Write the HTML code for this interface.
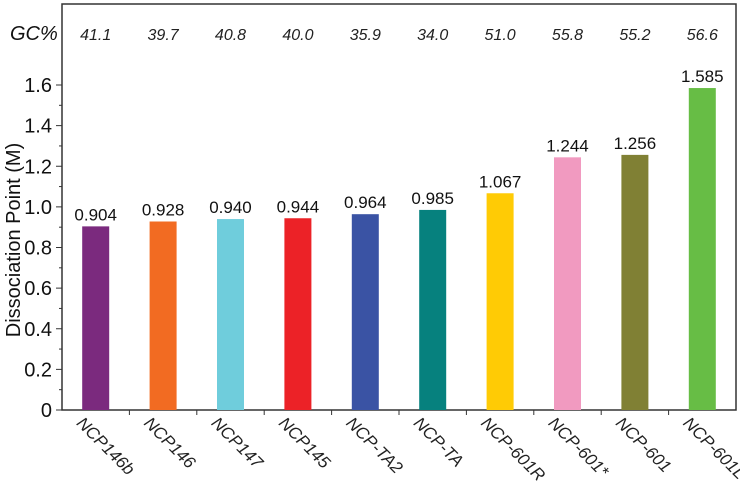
<!DOCTYPE html>
<html><head><meta charset="utf-8"><style>body{margin:0;background:#fff}svg{display:block;font-family:"Liberation Sans",Arial,sans-serif}</style></head>
<body>
<svg id="chart" width="740" height="489"></svg>
<script>
const categories=["NCP146b","NCP146","NCP147","NCP145","NCP-TA2","NCP-TA","NCP-601R","NCP-601*","NCP-601","NCP-601L"];
const values=[0.904,0.928,0.940,0.944,0.964,0.985,1.067,1.244,1.256,1.585];
const valueLabels=["0.904","0.928","0.940","0.944","0.964","0.985","1.067","1.244","1.256","1.585"];
const gcLabels=["41.1","39.7","40.8","40.0","35.9","34.0","51.0","55.8","55.2","56.6"];
const colors=["#7b2a7e","#f26b22","#6fcddc","#ec2227","#3a53a4","#06817e","#ffcb05","#f19ac0","#808034","#67bd45"];
const yTicks=[0,0.2,0.4,0.6,0.8,1.0,1.2,1.4,1.6];
const yTickLabels=["0","0.2","0.4","0.6","0.8","1.0","1.2","1.4","1.6"];
const L=62,R=736,T=4,B=410,Y1=85;
const svg=document.getElementById('chart');const NS='http://www.w3.org/2000/svg';
function y(v){return B-(B-Y1)*v/1.6;}
const bw=(R-L)/categories.length;
function x(i){return L+bw*(i+0.5);}
function mk(t,a,txt){const e=document.createElementNS(NS,t);for(const k in a)e.setAttribute(k,a[k]);if(txt!==undefined)e.textContent=txt;svg.appendChild(e);return e;}
let e;
e=mk('rect',{x:L,y:T,width:R-L,height:B-T,fill:'none',stroke:'#333','stroke-width':1.5});


for(let i=0;i<=16;i++){const v=i*0.1;e=mk('line',{x1:L,x2:L-(i%2?3:6),y1:y(v),y2:y(v),stroke:'#333','stroke-width':1});

}
yTicks.forEach((v,i)=>{e=mk('text',{x:L-10,y:y(v)+7,'text-anchor':'end','font-size':20,fill:'#111'},yTickLabels[i]);

});
e=mk('text',{x:0,y:0,transform:'translate(20,240) rotate(-90)','text-anchor':'middle','font-size':20,fill:'#111'},'Dissociation Point (M)');


e=mk('text',{x:10,y:40,'font-size':20,'font-style':'italic',fill:'#111'},'GC%');


for(let i=1;i<categories.length;i++){e=mk('line',{x1:L+bw*i,x2:L+bw*i,y1:B,y2:B+5,stroke:'#333','stroke-width':1});

}
categories.forEach((c,i)=>{
const cx=x(i),w=27;
e=mk('rect',{x:cx-w/2,y:y(values[i]),width:w,height:B-y(values[i]),fill:colors[i]});


e=mk('text',{x:cx,y:y(values[i])-6,'text-anchor':'middle','font-size':17,fill:'#111'},valueLabels[i]);


e=mk('text',{x:cx,y:40,'text-anchor':'middle','font-size':16,'font-style':'italic',fill:'#222'},gcLabels[i]);


e=mk('text',{x:0,y:0,transform:`translate(${cx-20},${424}) rotate(45)`,'font-size':17,'font-style':'italic',fill:'#222'},c);


});
</script>
</body></html>
